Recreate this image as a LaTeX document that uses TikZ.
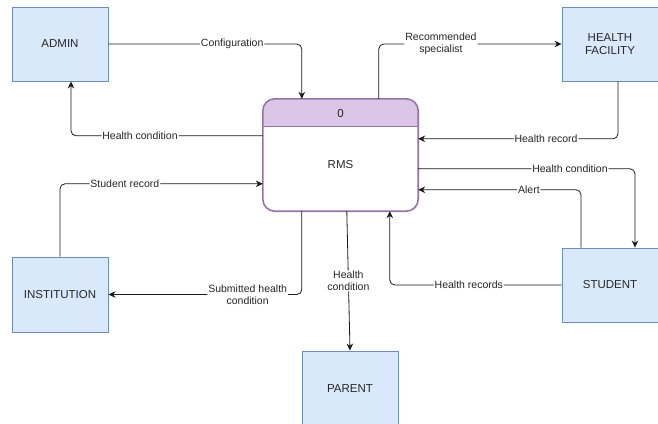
\documentclass[tikz,border=0pt]{standalone}
\usepackage{fontspec}
\setmainfont{Liberation Sans}
\usetikzlibrary{calc,arrows.meta}
\definecolor{extfill}{HTML}{DAE8FC}
\definecolor{extdraw}{HTML}{6C8EBF}
\definecolor{procdraw}{HTML}{9673A6}
\definecolor{procfill}{HTML}{DCC6E8}
\definecolor{linec}{HTML}{1A1A1A}
\tikzset{
  ext/.style={draw=extdraw,fill=extfill,line width=0.9pt,minimum width=96pt,minimum height=74pt,
    align=center,inner sep=0pt,font=\fontsize{11.5}{13.5}\selectfont,text=black!85},
  flow/.style={draw=linec,line width=0.8pt,rounded corners=5pt,-{Stealth[length=7pt,width=6.5pt]}},
  lbl/.style={fill=white,inner sep=1pt,align=center,font=\fontsize{10.5}{11.5}\selectfont,text=black!85}
}
\begin{document}
\begin{tikzpicture}[x=1pt,y=-1pt]
\useasboundingbox (0,0) rectangle (658,423);
\fill[white] (0,0) rectangle (658,423);
% external entities
\node[ext] (admin) at (60,44) {ADMIN};
\node[ext] (hf) at (610,44) {HEALTH\\FACILITY};
\node[ext,minimum height=75pt] (inst) at (60,294.5) {INSTITUTION};
\node[ext,minimum height=76pt] (parent) at (350,389) {PARENT};
\node[ext] (student) at (610,285) {STUDENT};
% process
\node[minimum width=155pt,minimum height=112pt,inner sep=0pt] (rms) at (340.5,155) {};
\begin{scope}
  \clip[rounded corners=12pt] (rms.north west) rectangle (rms.south east);
  \fill[white] (rms.north west) rectangle (rms.south east);
  \fill[procfill] (rms.north west) rectangle ($(rms.north east)+(0,28)$);
\end{scope}
\draw[procdraw,line width=1.3pt] ($(rms.north west)+(0,28)$) -- ($(rms.north east)+(0,28)$);
\draw[procdraw,line width=1.6pt,rounded corners=12pt] (rms.north west) rectangle (rms.south east);
\node[font=\fontsize{11.5}{13.5}\selectfont,text=black!85] (zero) at ($(rms.north)+(0,15)$) {0};
\node[font=\fontsize{11.5}{13.5}\selectfont,text=black!85] (rmslbl) at ($(rms.north)+(0,66)$) {RMS};
% flows
\draw[flow] (admin.east) -| node[lbl,pos=0.32]{Configuration} ($(rms.north west)+(39,0)$);
\draw[flow] ($(rms.north west)+(0,37)$) -| node[lbl,pos=0.32]{Health condition} ($(admin.south)+(11,0)$);
\draw[flow] (inst.north) |- node[lbl,pos=0.66]{Student record} ($(rms.north west)+(0,85)$);
\draw[flow] ($(rms.south west)+(39,0)$) |- node[lbl,pos=0.64]{Submitted health\\condition} (inst.east);
\draw[flow] ($(rms.south west)+(84,0)$) -- node[lbl,pos=0.5]{Health\\condition} (parent.north);
\draw[flow] ($(rms.north west)+(116,0)$) |- node[lbl,pos=0.67]{Recommended\\specialist} (hf.west);
\draw[flow] ($(hf.south)+(8,0)$) |- node[lbl,pos=0.68]{Health record} ($(rms.north east)+(0,40)$);
\draw[flow] ($(rms.north east)+(0,70)$) -| node[lbl,pos=0.35]{Health condition} ($(student.north)+(25,0)$);
\draw[flow] ($(student.north)+(-29,0)$) |- node[lbl,pos=0.66]{Alert} ($(rms.north east)+(0,91)$);
\draw[flow] (student.west) -| node[lbl,pos=0.27]{Health records} ($(rms.south west)+(127,0)$);
\end{tikzpicture}
\end{document}
